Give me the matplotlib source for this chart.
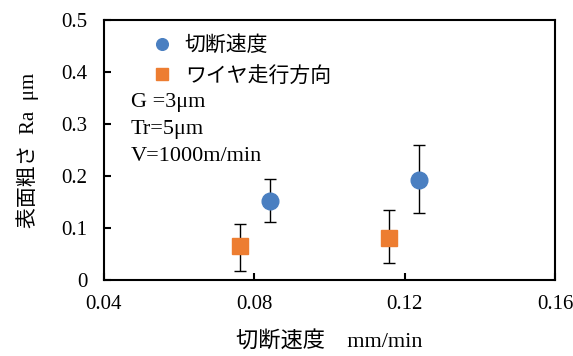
import matplotlib
matplotlib.use("Agg")
import matplotlib.pyplot as plt

plt.rcParams['font.family'] = ['Liberation Serif', 'Noto Sans CJK JP']

# 切断速度 series
speed_x = [0.0841, 0.1237]
speed_y = [0.152, 0.192]
speed_lo = [0.112, 0.129]
speed_hi = [0.194, 0.260]

# ワイヤ走行方向 series
wire_x = [0.0761, 0.1157]
wire_y = [0.065, 0.081]
wire_lo = [0.017, 0.033]
wire_hi = [0.108, 0.135]

xticks = [0.04, 0.08, 0.12, 0.16]
yticks = [0, 0.1, 0.2, 0.3, 0.4, 0.5]

fig = plt.figure(figsize=(5.73, 3.56), dpi=100)
ax = fig.add_axes([104 / 573, 76 / 356, 451 / 573, 260 / 356])

def err(y, lo, hi):
    return [[a - b for a, b in zip(y, lo)], [c - a for a, c in zip(y, hi)]]

ax.errorbar(speed_x, speed_y, yerr=err(speed_y, speed_lo, speed_hi), fmt='o',
            color='#4a7fc1', ms=12, ecolor='black', elinewidth=1, capsize=4,
            capthick=1, label='切断速度', zorder=3)
ax.errorbar(wire_x, wire_y, yerr=err(wire_y, wire_lo, wire_hi), fmt='s',
            color='#ed7d31', ms=12, ecolor='black', elinewidth=1, capsize=4,
            capthick=1, label='ワイヤ走行方向', zorder=3)

ax.set_xlim(0.04, 0.16)
ax.set_ylim(0, 0.5)
ax.set_xticks(xticks)
ax.set_xticklabels(['0.04', '0.08', '0.12', '0.16'])
ax.set_yticks(yticks)
ax.set_yticklabels(['0', '0.1', '0.2', '0.3', '0.4', '0.5'])
ax.tick_params(direction='in', length=5, width=1.5, labelsize=15, colors='black')
ax.tick_params(axis='x', pad=11)
ax.tick_params(axis='y', pad=12)
for s in ax.spines.values():
    s.set_linewidth(1.5)

ax.set_xlabel('切断速度　mm/min', fontsize=16, labelpad=12)
ax.set_ylabel('表面粗さ  Ra  μm', fontsize=15, labelpad=16)

# legend without error bars
h, l = ax.get_legend_handles_labels()
h = [x[0] for x in h]
ax.legend(h, l, loc='upper left', bbox_to_anchor=(0.05, 1.01), frameon=False,
          fontsize=15, markerscale=0.7, handlelength=1.6, handletextpad=0.3,
          labelspacing=0.5)

ax.text(0.06, 0.72, 'G =3μm\nTr=5μm\nV=1000m/min', transform=ax.transAxes,
        fontsize=16, va='top', ha='left', linespacing=1.58)

fig.savefig('out.png', dpi=100)
